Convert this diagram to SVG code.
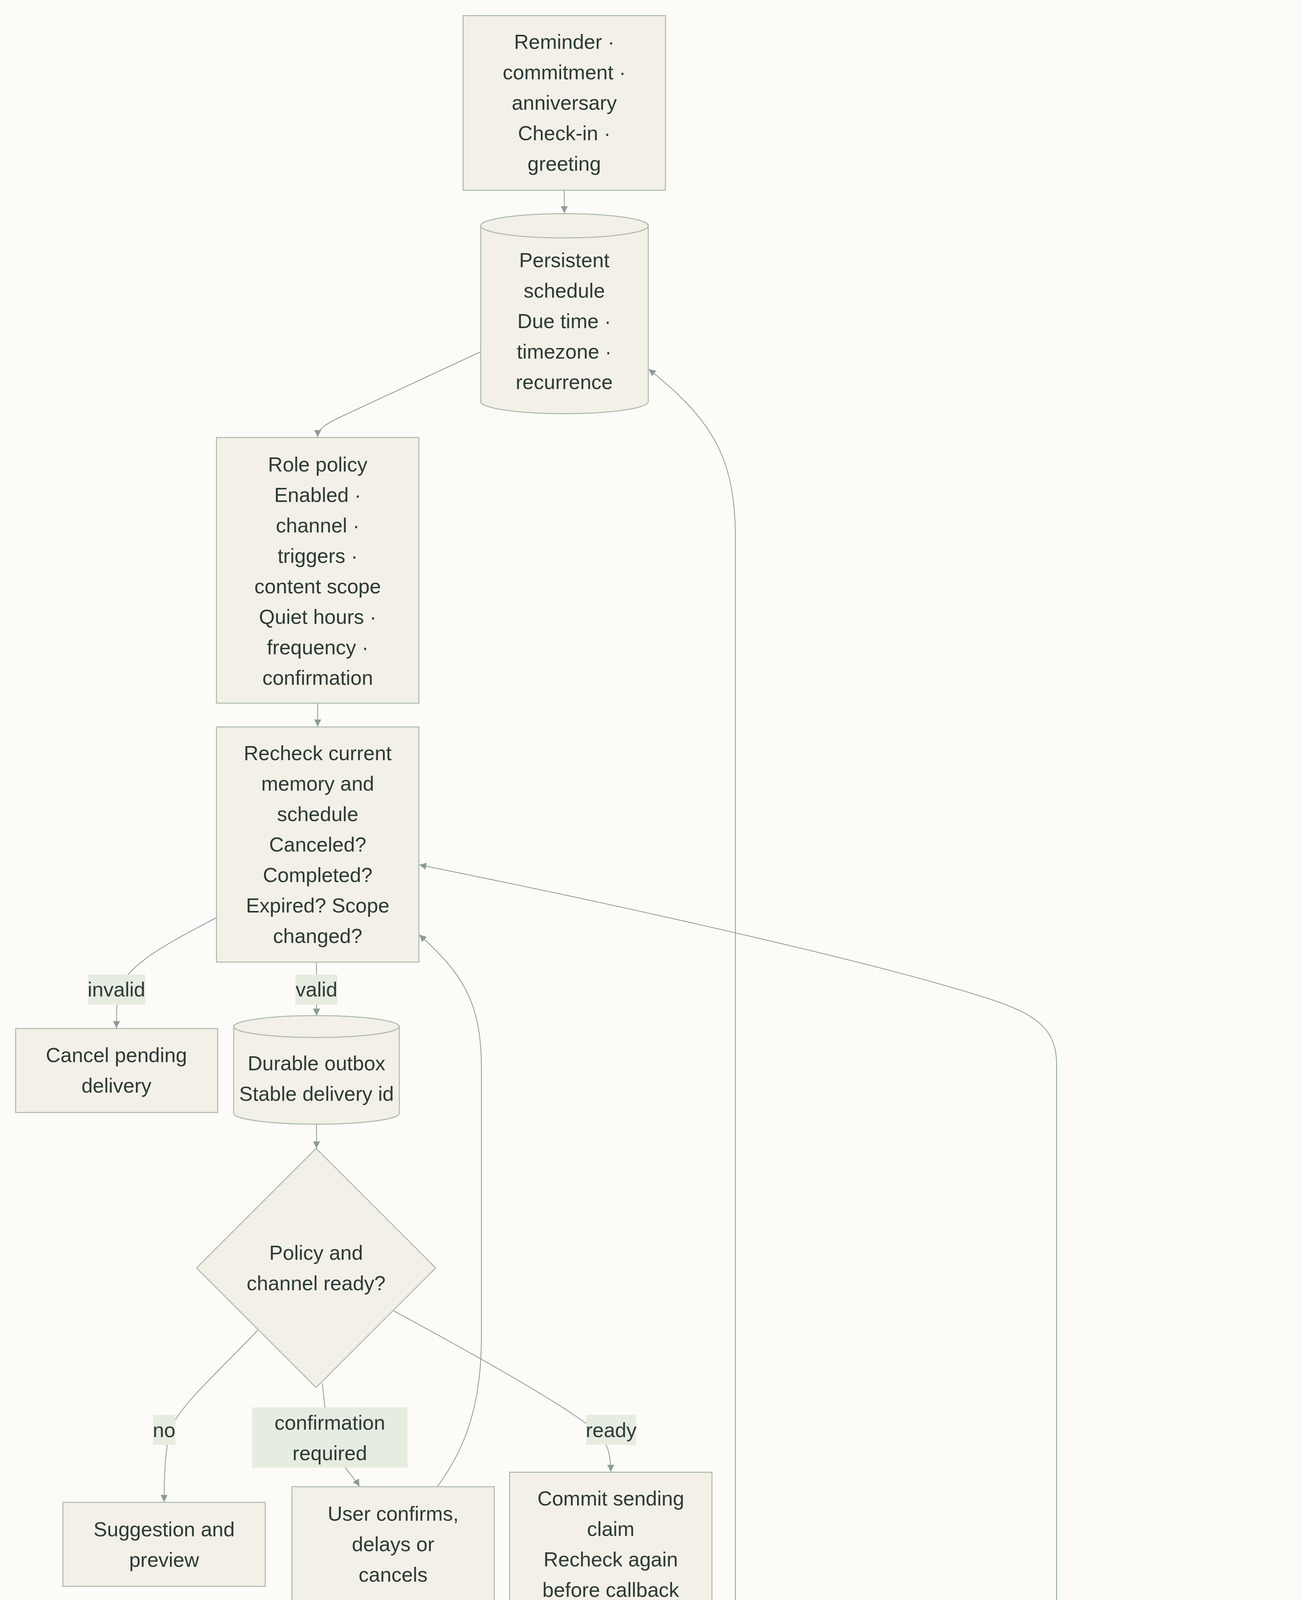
<svg xmlns="http://www.w3.org/2000/svg" width="3332" height="6128" viewBox="0 0 3332 6128">
<style>
.bg{fill:#fcfbf7}
.node{fill:#f3f0e7;stroke:#a9b9aa;stroke-width:2.5}
.lbl{fill:#e7ece1}
.edge{fill:none;stroke:#8c9c94;stroke-width:2}
text{font-family:"Liberation Sans",Arial,sans-serif;font-size:52px;fill:#2c3b36;text-anchor:middle}
</style>
<defs>
<marker id="arr" viewBox="0 0 10 10" refX="10" refY="5" markerUnits="userSpaceOnUse" markerWidth="18" markerHeight="18" orient="auto">
<path d="M0,0 L10,5 L0,10 z" fill="#8c9c94"/>
</marker>
</defs>
<rect class="bg" x="0" y="0" width="3332" height="6128"/>

<g id="connectors">
<path class="edge" marker-end="url(#arr)" d="M1444,487 L1444,546"/>
<path class="edge" marker-end="url(#arr)" d="M1229,901 L870,1068 C830,1087 813,1100 813,1119"/>
<path class="edge" marker-end="url(#arr)" d="M813,1800 L813,1860"/>
<path class="edge" marker-end="url(#arr)" d="M554,2349 C460,2400 330,2460 305,2533 C298,2560 298,2600 298,2632"/>
<path class="edge" marker-end="url(#arr)" d="M810,2463 L810,2600"/>
<path class="edge" marker-end="url(#arr)" d="M810,2878 L810,2940"/>
<path class="edge" marker-end="url(#arr)" d="M660,3405 C560,3510 470,3590 440,3650 C422,3700 420,3780 420,3845"/>
<path class="edge" marker-end="url(#arr)" d="M825,3541 C830,3600 840,3660 850,3700 C870,3750 905,3780 920,3805"/>
<path class="edge" marker-end="url(#arr)" d="M1008,3356 C1200,3460 1450,3600 1520,3660 C1558,3690 1563,3730 1563,3768"/>
<path class="edge" marker-end="url(#arr)" d="M1563,4138 L1563,4198"/>
<path class="edge" marker-end="url(#arr)" d="M1563,4646 L1563,4905"/>
<path class="edge" marker-end="url(#arr)" d="M1822,4530 C1950,4585 2150,4660 2230,4700 C2262,4720 2267,4760 2267,4784"/>
<path class="edge" marker-end="url(#arr)" d="M1563,5353 C1563,5480 1580,5560 1644,5689"/>
<path class="edge" marker-end="url(#arr)" d="M1802,5690 C1850,5600 1882,5500 1882,5300 L1882,1380 C1882,1180 1830,1080 1660,945"/>
<path class="edge" marker-end="url(#arr)" d="M2267,5473 L2267,5543 C2290,5600 2350,5670 2389,5727"/>
<path class="edge" marker-end="url(#arr)" d="M2490,5254 C2700,5370 2950,5500 3000,5540 C3015,5560 3017,5590 3017,5611"/>
<path class="edge" marker-end="url(#arr)" d="M2551,5728 C2640,5610 2704,5500 2704,5300 L2704,2725 C2704,2640 2660,2600 2540,2560 C2300,2480 1700,2340 1073,2214"/>
<path class="edge" marker-end="url(#arr)" d="M1119,3806 C1190,3710 1232,3600 1232,3420 L1232,2735 C1232,2560 1180,2490 1073,2393"/>
</g>

<g id="edge-labels">
<g id="label-invalid"><rect class="lbl" x="225" y="2495" width="147" height="77"/><text x="298" y="2551">invalid</text></g>
<g id="label-valid"><rect class="lbl" x="756" y="2495" width="107" height="77"/><text x="810" y="2551">valid</text></g>
<g id="label-no1"><rect class="lbl" x="392" y="3622" width="57" height="77"/><text x="420" y="3679">no</text></g>
<g id="label-confirm"><rect class="lbl" x="645" y="3603" width="398" height="154"/><text x="844" y="3660">confirmation</text><text x="844" y="3738">required</text></g>
<g id="label-ready"><rect class="lbl" x="1500" y="3622" width="128" height="77"/><text x="1564" y="3679">ready</text></g>
<g id="label-timeout"><rect class="lbl" x="2097" y="4678" width="340" height="77"/><text x="2267" y="4735">timeout / crash</text></g>
<g id="label-yes"><rect class="lbl" x="2227" y="5505" width="79" height="77"/><text x="2267" y="5562">yes</text></g>
<g id="label-no2"><rect class="lbl" x="2989" y="5505" width="58" height="77"/><text x="3018" y="5562">no</text></g>
</g>

<g id="n-trigger">
<rect class="node" x="1185" y="40" width="518" height="447"/>
<text x="1444" y="125">Reminder ·</text>
<text x="1444" y="203">commitment ·</text>
<text x="1444" y="281">anniversary</text>
<text x="1444" y="359">Check-in ·</text>
<text x="1444" y="437">greeting</text>
</g>

<g id="n-schedule">
<path class="node" d="M1230,578 A214.5,31 0 0 1 1659,578 L1659,1028 A214.5,31 0 0 1 1230,1028 Z"/>
<path class="node" fill="none" d="M1230,578 A214.5,31 0 0 0 1659,578"/>
<text x="1444" y="684">Persistent</text>
<text x="1444" y="762">schedule</text>
<text x="1444" y="840">Due time ·</text>
<text x="1444" y="918">timezone ·</text>
<text x="1444" y="996">recurrence</text>
</g>

<g id="n-policy">
<rect class="node" x="554" y="1120" width="518" height="680"/>
<text x="813" y="1207">Role policy</text>
<text x="813" y="1285">Enabled ·</text>
<text x="813" y="1363">channel ·</text>
<text x="813" y="1441">triggers ·</text>
<text x="813" y="1519">content scope</text>
<text x="813" y="1597">Quiet hours ·</text>
<text x="813" y="1675">frequency ·</text>
<text x="813" y="1753">confirmation</text>
</g>

<g id="n-recheck">
<rect class="node" x="554" y="1861" width="518" height="602"/>
<text x="813" y="1946">Recheck current</text>
<text x="813" y="2024">memory and</text>
<text x="813" y="2102">schedule</text>
<text x="813" y="2180">Canceled?</text>
<text x="813" y="2258">Completed?</text>
<text x="813" y="2336">Expired? Scope</text>
<text x="813" y="2414">changed?</text>
</g>

<g id="n-cancel">
<rect class="node" x="40" y="2633" width="517" height="215"/>
<text x="298" y="2719">Cancel pending</text>
<text x="298" y="2797">delivery</text>
</g>

<g id="n-outbox">
<path class="node" d="M598,2628 A212,28 0 0 1 1022,2628 L1022,2850 A212,28 0 0 1 598,2850 Z"/>
<path class="node" fill="none" d="M598,2628 A212,28 0 0 0 1022,2628"/>
<text x="810" y="2740">Durable outbox</text>
<text x="810" y="2818">Stable delivery id</text>
</g>

<g id="n-ready">
<polygon class="node" points="809,2940 1115,3246 809,3552 503,3246"/>
<text x="809" y="3225">Policy and</text>
<text x="809" y="3303">channel ready?</text>
</g>

<g id="n-suggest">
<rect class="node" x="161" y="3846" width="518" height="215"/>
<text x="420" y="3933">Suggestion and</text>
<text x="420" y="4011">preview</text>
</g>

<g id="n-user">
<rect class="node" x="747" y="3806" width="518" height="294"/>
<text x="1006" y="3893">User confirms,</text>
<text x="1006" y="3971">delays or</text>
<text x="1006" y="4049">cancels</text>
</g>

<g id="n-commit">
<rect class="node" x="1304" y="3769" width="518" height="369"/>
<text x="1563" y="3854">Commit sending</text>
<text x="1563" y="3932">claim</text>
<text x="1563" y="4010">Recheck again</text>
<text x="1563" y="4088">before callback</text>
</g>

<g id="n-callback">
<rect class="node" x="1304" y="4199" width="518" height="447"/>
<text x="1563" y="4284">Authenticated</text>
<text x="1563" y="4362">host callback /</text>
<text x="1563" y="4440">webhook</text>
<text x="1563" y="4518">Idempotency-</text>
<text x="1563" y="4596">Key = delivery id</text>
</g>

<g id="n-host">
<rect class="node" x="1286" y="4906" width="556" height="447"/>
<text x="1564" y="4991">Host</text>
<text x="1564" y="5069">transactionally</text>
<text x="1564" y="5147">deduplicates</text>
<text x="1564" y="5225">Acknowledgement</text>
<text x="1564" y="5303">recorded</text>
</g>

<g id="n-idem">
<polygon class="node" points="2267,4785 2611,5129 2267,5473 1923,5129"/>
<text x="2267" y="5069">Channel</text>
<text x="2267" y="5147">supports</text>
<text x="2267" y="5225">idempotency?</text>
</g>

<g id="n-complete">
<rect class="node" x="1464" y="5690" width="518" height="292"/>
<text x="1723" y="5776">Complete or</text>
<text x="1723" y="5854">schedule the</text>
<text x="1723" y="5932">next occurrence</text>
</g>

<g id="n-retry">
<rect class="node" x="2201" y="5728" width="518" height="215"/>
<text x="2460" y="5814">Bounded retry</text>
<text x="2460" y="5892">with the same id</text>
</g>

<g id="n-uncertain">
<rect class="node" x="2758" y="5612" width="518" height="448"/>
<text x="3017" y="5698">Delivery</text>
<text x="3017" y="5776">uncertain</text>
<text x="3017" y="5854">Reconciliation</text>
<text x="3017" y="5932">required before</text>
<text x="3017" y="6010">resending</text>
</g>
</svg>
